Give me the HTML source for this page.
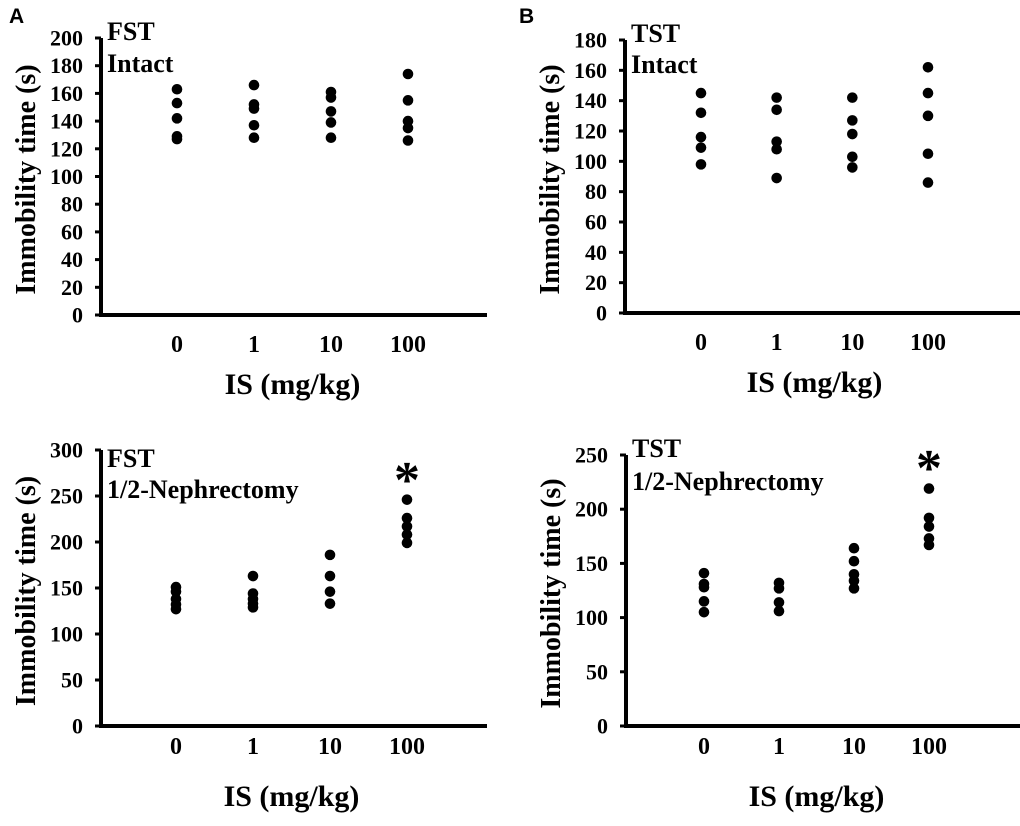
<!DOCTYPE html>
<html><head><meta charset="utf-8"><style>
html,body{margin:0;padding:0;background:#fff;}
svg{display:block;font-family:"Liberation Serif",serif;font-weight:bold;}
</style></head><body>
<svg id="chart" width="1020" height="826" viewBox="0 0 1020 826" xmlns="http://www.w3.org/2000/svg"></svg>
<script>
const categories = ["0", "1", "10", "100"];
const fstIntact = [[163,153,142,129,127],[166,152,149,137,128],[161,157,147,139,128],[174,155,140,135,126]];
const tstIntact = [[145,132,116,109,98],[142,134,113,108,89],[142,127,118,103,96],[162,145,130,105,86]];
const fstNephx = [[151,146,138,132,127],[163,144,138,133,129],[186,163,146,133],[246,226,217,208,199]];
const tstNephx = [[141,131,128,115,105],[132,127,114,106],[164,152,140,134,127],[219,192,184,173,167]];
const ticksFstIntact = [0,20,40,60,80,100,120,140,160,180,200];
const ticksTstIntact = [0,20,40,60,80,100,120,140,160,180];
const ticksFstNephx = [0,50,100,150,200,250,300];
const ticksTstNephx = [0,50,100,150,200,250];

const NS = "http://www.w3.org/2000/svg";
const svg = document.getElementById("chart");
function mk(tag, attrs, parent, text) {
  const e = document.createElementNS(NS, tag);
  for (const k in attrs) e.setAttribute(k, attrs[k]);
  if (text !== undefined) e.textContent = text;
  (parent || svg).appendChild(e);
  return e;
}

const panels = [
  {id:"fst-intact", data:fstIntact, ticks:ticksFstIntact, ax:101, axEnd:487, y0:315, yTop:38, xs:[177,254,331,408], line1:"FST", line2:"Intact", b1:40, b2:72, star:0, xl:352, xt:394, letter:"A", lx:9},
  {id:"tst-intact", data:tstIntact, ticks:ticksTstIntact, ax:625, axEnd:1020, y0:313, yTop:40, xs:[701,777,852,928], line1:"TST", line2:"Intact", b1:42, b2:73, star:0, xl:350, xt:392, letter:"B", lx:519},
  {id:"fst-nephx", data:fstNephx, ticks:ticksFstNephx, ax:101, axEnd:487, y0:726, yTop:450, xs:[176,253,330,407], line1:"FST", line2:"1/2-Nephrectomy", b1:467, b2:498, star:497, xl:754, xt:806},
  {id:"tst-nephx", data:tstNephx, ticks:ticksTstNephx, ax:626, axEnd:1020, y0:726, yTop:455, xs:[704,779,854,929], line1:"TST", line2:"1/2-Nephrectomy", b1:457, b2:490, star:485, xl:754, xt:806}
];

panels.forEach(p => {
  const g = mk("g", {});
  
  
  const tmax = p.ticks[p.ticks.length-1];
  const yS = v => p.y0 - (v / tmax) * (p.y0 - p.yTop);
  const xS = i => p.xs[0] + i * (p.xs[3] - p.xs[0]) / (categories.length - 1);
  if (p.letter) {
    const t = mk("text", {x:p.lx, y:23, "font-family":"Liberation Sans, sans-serif", "font-size":"21", "font-weight":"bold"}, g, p.letter);
    
    
  }
  const ya = mk("line", {x1:p.ax, y1:p.yTop, x2:p.ax, y2:p.y0+2, stroke:"#000", "stroke-width":4}, g);
  
  
  const xa = mk("line", {x1:p.ax-2, y1:p.y0, x2:p.axEnd, y2:p.y0, stroke:"#000", "stroke-width":4}, g);
  
  
  p.ticks.forEach(v => {
    const y = yS(v);
    const tk = mk("line", {x1:p.ax-6, y1:y, x2:p.ax, y2:y, stroke:"#000", "stroke-width":3}, g);
    
    
    const tl = mk("text", {x:p.ax-18, y:y+7.5, "text-anchor":"end", "font-size":"22"}, g, String(v));
    
    
  });
  const cy = (p.y0 + p.yTop) / 2 + 3;
  const yt = mk("text", {x:0, y:0, transform:`translate(${p.ax-66},${cy}) rotate(-90)`, "text-anchor":"middle", "font-size":"28"}, g, "Immobility time (s)");
  
  
  categories.forEach((c, i) => {
    const xl = mk("text", {x:xS(i), y:p.xl, "text-anchor":"middle", "font-size":"24"}, g, c);
    
    
    p.data[i].forEach(v => {
      const d = mk("circle", {cx:xS(i), cy:yS(v), r:5.3, fill:"#000"}, g);
      
      
    });
  });
  const xt = mk("text", {x:(xS(0)+xS(3))/2, y:p.xt, "text-anchor":"middle", "font-size":"30"}, g, "IS (mg/kg)");
  
  
  const l1 = mk("text", {x:p.ax+6, y:p.b1, "font-size":"26"}, g, p.line1);
  
  
  const l2 = mk("text", {x:p.ax+6, y:p.b2, "font-size":"26"}, g, p.line2);
  
  
  if (p.star) {
    const s = mk("text", {x:xS(3), y:p.star, "text-anchor":"middle", "font-size":"52", "font-weight":"bold"}, g, "*");
    
    
  }
});
</script>
</body></html>
